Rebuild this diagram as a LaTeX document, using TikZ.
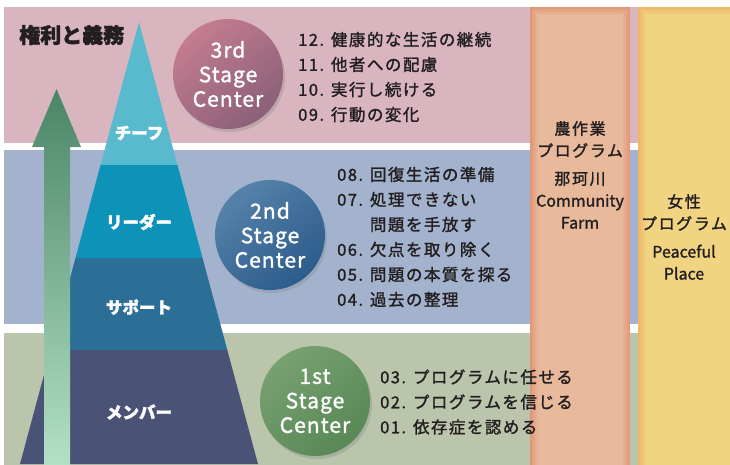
\documentclass[tikz,border=0pt]{standalone}
\usepackage{fontspec}
\setmainfont{Noto Sans CJK JP}
\newfontfamily\listfont{Noto Sans CJK JP}[LetterSpace=9, FakeBold=1.5]
\newfontfamily\colfont{Noto Sans CJK JP}[FakeBold=1.5]
\newfontfamily\colcjkfont{Noto Sans CJK JP}[LetterSpace=10, FakeBold=1.5]
\newfontfamily\circfont{Noto Sans CJK JP}[LetterSpace=5, FakeBold=1.5]
\newfontfamily\heavyfont{Noto Sans CJK JP}[BoldFeatures={FakeBold=2}]
\usetikzlibrary{shadows,calc}
\definecolor{bandpink}{HTML}{D9B6BF}
\definecolor{bandblue}{HTML}{A3B3CE}
\definecolor{bandgreen}{HTML}{BAC5AC}
\definecolor{txtdark}{HTML}{231F20}
\definecolor{chiefc}{HTML}{5ABACD}
\definecolor{leaderc}{HTML}{0E93B8}
\definecolor{supportc}{HTML}{2C6F96}
\definecolor{memberc}{HTML}{4A5375}
\definecolor{orgedge}{HTML}{E29878}
\definecolor{orgmid}{HTML}{E8B99A}
\definecolor{yeledge}{HTML}{EDB768}
\definecolor{yelmid}{HTML}{F1D482}
\newcommand{\fsz}[2]{\fontsize{#1}{#2}\selectfont}
\newcommand{\cjkline}[1]{{\colcjkfont #1}}
\tikzset{
  stagecirc/.style={circle, minimum size=110pt, inner sep=0pt, align=center, text=white,
     font=\circfont\fsz{21}{24.5}, drop shadow={opacity=0.3, shadow xshift=2pt, shadow yshift=-3pt}},
  listtext/.style={anchor=west, align=left, text=txtdark, inner sep=0pt, font=\listfont\fsz{16.5}{25}},
  coltext/.style={align=center, text=txtdark, inner sep=0pt, font=\colfont\fsz{16}{22}},
  pyrlabel/.style={text=white, font=\heavyfont\bfseries\fsz{16.5}{18}, inner sep=0pt}
}
\begin{document}
\begin{tikzpicture}[x=1pt,y=-1pt]
\useasboundingbox (0,0) rectangle (730,464);
\begin{scope}
\clip (0,0) rectangle (730,464);
% bands
\fill[bandpink] (4,7) rectangle (740,143);
\fill[bandblue] (4,150) rectangle (740,324);
\fill[bandgreen] (4,333) rectangle (740,470);
% columns with soft edges
\foreach \i/\c in {0/100,1.5/80,3/60,4.5/40,6/20,7.5/0}{
  \fill[orgedge!\c!orgmid] (530+\i,7+\i) rectangle (630-\i,470);
  \fill[yeledge!\c!yelmid] (638+\i,7+\i) rectangle (740,470);
}
% pyramid
\coordinate (apex) at (139,22);
\coordinate (bl) at (20,464);
\coordinate (br) at (258,464);
\fill[memberc] ($(apex)!0.742!(bl)$) -- (bl) -- (br) -- ($(apex)!0.742!(br)$) -- cycle;
\fill[supportc] ($(apex)!0.534!(bl)$) -- ($(apex)!0.742!(bl)$) -- ($(apex)!0.742!(br)$) -- ($(apex)!0.534!(br)$) -- cycle;
\fill[leaderc] ($(apex)!0.3235!(bl)$) -- ($(apex)!0.534!(bl)$) -- ($(apex)!0.534!(br)$) -- ($(apex)!0.3235!(br)$) -- cycle;
\fill[chiefc] (apex) -- ($(apex)!0.3235!(bl)$) -- ($(apex)!0.3235!(br)$) -- cycle;
% arrow
\shade[top color={rgb,255:red,74;green,133;blue,104}, bottom color={rgb,255:red,180;green,226;blue,198}]
  (44,470) -- (44,147) -- (32,147) -- (56.5,89) -- (81,147) -- (70,147) -- (70,470) -- cycle;
\end{scope}
% pyramid labels
\node[pyrlabel] (chief) at (139,133) {チーフ};
\node[pyrlabel] (leader) at (139,222) {リーダー};
\node[pyrlabel] (support) at (139,307) {サポート};
\node[pyrlabel] (member) at (139,412) {メンバー};
% title
\node[anchor=west, text=txtdark, font=\heavyfont\bfseries\fsz{21}{22}, inner sep=0pt] (title) at (19,35) {権利と義務};
% circles
\node[stagecirc, top color={rgb,255:red,196;green,124;blue,144}, bottom color={rgb,255:red,138;green,96;blue,120}, shading angle=40] (c3) at (228,74) {3rd\\Stage\\Center};
\node[stagecirc, top color={rgb,255:red,86;green,130;blue,170}, bottom color={rgb,255:red,44;green,92;blue,140}, shading angle=40] (c2) at (270,235) {2nd\\Stage\\Center};
\node[stagecirc, top color={rgb,255:red,120;green,160;blue,112}, bottom color={rgb,255:red,88;green,136;blue,86}, shading angle=40] (c1) at (315,401) {1st\\Stage\\Center};
% lists
\node[listtext] (l3) at (298,77) {12. 健康的な生活の継続\\11. 他者への配慮\\10. 実行し続ける\\09. 行動の変化};
\node[listtext] (l2) at (337,237) {08. 回復生活の準備\\07. 処理できない\\\phantom{07. }問題を手放す\\06. 欠点を取り除く\\05. 問題の本質を探る\\04. 過去の整理};
\node[listtext] (l1) at (380,402) {03. プログラムに任せる\\02. プログラムを信じる\\01. 依存症を認める};
% column texts
\node[coltext] (farm) at (580,175) {\cjkline{農作業}\\\cjkline{プログラム}\\[6pt]\cjkline{那珂川}\\Community\\Farm};
\node[coltext] (women) at (684,237) {\cjkline{女性}\\\cjkline{プログラム}\\[6pt]Peaceful\\Place};
\end{tikzpicture}
\end{document}
